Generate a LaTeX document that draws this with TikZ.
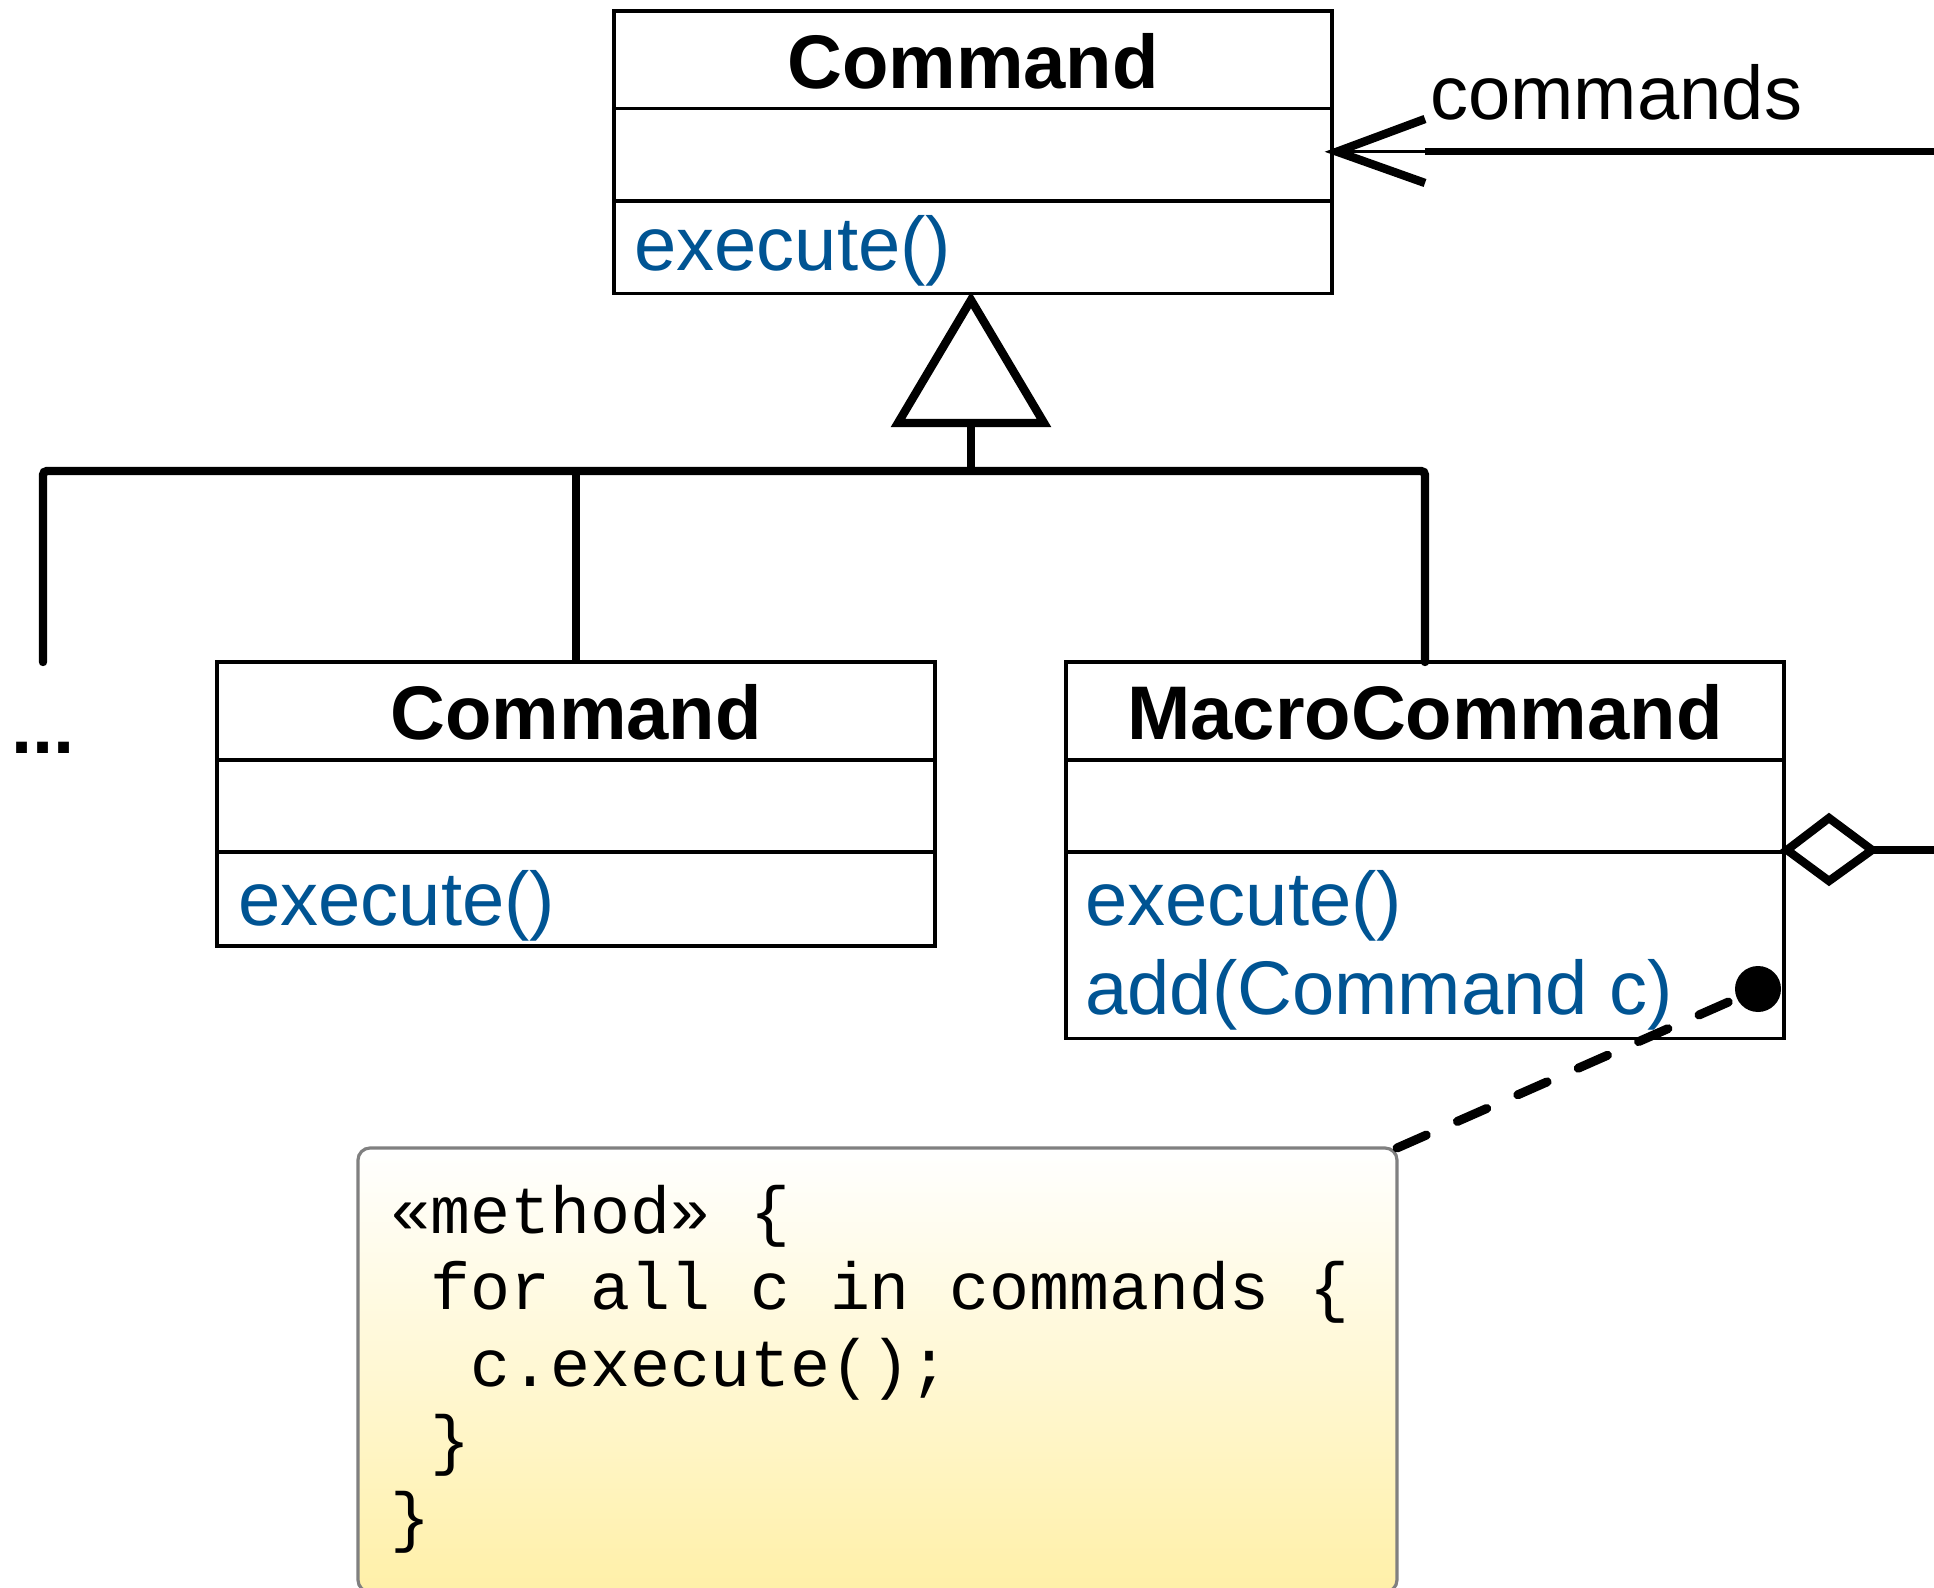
\documentclass[tikz,border=0pt]{standalone}
\usepackage{fontspec}
\setmainfont{Liberation Sans}
\newfontfamily\codefont{Liberation Mono}
\definecolor{opblue}{RGB}{0,84,147}
\definecolor{notebot}{RGB}{255,240,168}
\definecolor{noteedge}{RGB}{128,128,128}
\begin{document}
\begin{tikzpicture}[x=0.5pt,y=-0.5pt,
  umlbox/.style={draw, line width=1.9pt, fill=white, inner sep=0pt, outer sep=0pt, anchor=north west, minimum width=359pt},
  sepline/.style={line width=1.9pt},
  title/.style={font=\fontsize{38}{40}\selectfont\bfseries, anchor=base, inner sep=0pt},
  op/.style={font=\fontsize{38}{40}\selectfont, text=opblue, anchor=base west, inner sep=0pt},
  conn/.style={line width=4.2pt},
  codeline/.style={font=\codefont\fontsize{33.3}{38}\selectfont, anchor=base west, inner sep=0pt},
  notebox/.style={draw=noteedge, line width=1.6pt, rounded corners=6pt, top color=white, bottom color=notebot, anchor=north west, inner sep=0pt, outer sep=0pt, minimum width=519.5pt, minimum height=222pt}
]
\useasboundingbox (0,0) rectangle (1934,1588);

% top Command
\node[umlbox, minimum height=141.25pt] (top) at (614,11) {};
\draw[sepline] (614,108.5) -- (1332,108.5);
\draw[sepline] (614,201) -- (1332,201);
\node[title] (toptitle) at (973,89) {Command};
\node[op] (topexec) at (634,271) {execute()};

% middle Command
\node[umlbox, minimum height=142pt] (mid) at (217,662) {};
\draw[sepline] (217,760) -- (935,760);
\draw[sepline] (217,852) -- (935,852);
\node[title] (midtitle) at (576,740) {Command};
\node[op] (midexec) at (238,925) {execute()};

% MacroCommand
\node[umlbox, minimum height=188.25pt] (macro) at (1066,662) {};
\draw[sepline] (1066,760) -- (1784,760);
\draw[sepline] (1066,852) -- (1784,852);
\node[title] (macrotitle) at (1425,740) {MacroCommand};
\node[op] (macroexec) at (1085,925) {execute()};
\node[op] (macroadd) at (1085,1014) {add(Command c)};

% dots
\node[font=\fontsize{38}{40}\selectfont\bfseries, anchor=base west, inner sep=0pt] (dots) at (11,754) {...};

% generalization
\coordinate (apex) at (971,300);
\coordinate (tbase) at (971,423);
\coordinate (bus) at (971,471);
\coordinate (leftend) at (43,662);
\draw[conn, miter limit=10, fill=white] (apex) -- (1044,423) -- (898,423) -- cycle;
\draw[conn] (tbase) -- (bus);
\draw[conn, rounded corners=2pt, line cap=round] (leftend) -- (leftend |- bus) -- (macro.north |- bus) -- (macro.north);
\draw[conn] (mid.north |- bus) -- (mid.north);

% commands association
\coordinate (rightA) at (1934,151.7);
\coordinate (tipA) at (1337,151.7);
\draw[line width=3.8pt] (rightA) -- (1425,151.7);
\draw[line width=1.6pt] (1425,151.7) -- (tipA);
\draw[line width=4.2pt, miter limit=10] (1425,119) -- (tipA) -- (1425,183);
\node[font=\fontsize{38}{40}\selectfont, anchor=base west, inner sep=0pt] (lbl) at (1430,120) {commands};

% aggregation diamond
\coordinate (rightD) at (1934,850);
\draw[conn, fill=white, miter limit=10] (1787,850) -- (1829,818) -- (1872,850) -- (1829,881) -- cycle;
\draw[conn] (1872,850) -- (rightD);

% note
\node[notebox] (note) at (358,1148) {};
\node[codeline] (code1) at (390,1233) {«method» \{};
\node[codeline] (code2) at (430,1309.5) {for all c in commands \{};
\node[codeline] (code3) at (470,1386) {c.execute();};
\node[codeline] (code4) at (430,1462.5) {\}};
\node[codeline] (code5) at (390,1539) {\}};

% anchor dot and dashed link
\fill (1758,989) circle (11.5pt) coordinate (dot);
\draw[line width=4.5pt, dash pattern=on 16pt off 17pt, line cap=round] (note.north east) -- (dot);
\end{tikzpicture}
\end{document}
